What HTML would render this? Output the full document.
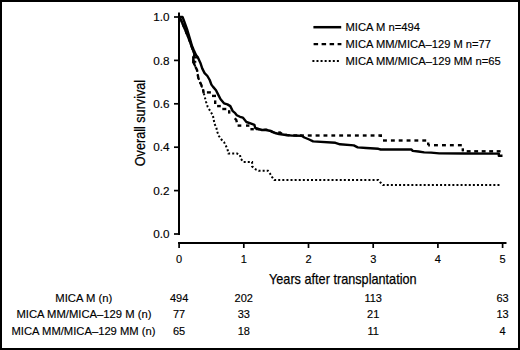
<!DOCTYPE html>
<html><head><meta charset="utf-8"><style>
html,body{margin:0;padding:0;background:#fff;}
svg{display:block;}
text{font-family:"Liberation Sans",sans-serif;fill:#000;stroke:#000;stroke-width:0.15px;}
</style></head><body>
<svg width="520" height="350" viewBox="0 0 520 350">
<rect width="520" height="350" fill="#fff"/>
<rect x="1" y="1" width="518" height="348" fill="none" stroke="#000" stroke-width="2"/>
<line x1="179" y1="12.5" x2="179" y2="235" stroke="#000" stroke-width="2"/>
<line x1="174" y1="234.0" x2="179" y2="234.0" stroke="#000" stroke-width="1.7"/>
<text x="169.6" y="238.1" text-anchor="end" font-size="11" textLength="16.3" lengthAdjust="spacingAndGlyphs" font-family="Liberation Sans, sans-serif">0.0</text>
<line x1="174" y1="190.6" x2="179" y2="190.6" stroke="#000" stroke-width="1.7"/>
<text x="169.6" y="194.7" text-anchor="end" font-size="11" textLength="16.3" lengthAdjust="spacingAndGlyphs" font-family="Liberation Sans, sans-serif">0.2</text>
<line x1="174" y1="147.2" x2="179" y2="147.2" stroke="#000" stroke-width="1.7"/>
<text x="169.6" y="151.3" text-anchor="end" font-size="11" textLength="16.3" lengthAdjust="spacingAndGlyphs" font-family="Liberation Sans, sans-serif">0.4</text>
<line x1="174" y1="103.8" x2="179" y2="103.8" stroke="#000" stroke-width="1.7"/>
<text x="169.6" y="107.9" text-anchor="end" font-size="11" textLength="16.3" lengthAdjust="spacingAndGlyphs" font-family="Liberation Sans, sans-serif">0.6</text>
<line x1="174" y1="60.4" x2="179" y2="60.4" stroke="#000" stroke-width="1.7"/>
<text x="169.6" y="64.5" text-anchor="end" font-size="11" textLength="16.3" lengthAdjust="spacingAndGlyphs" font-family="Liberation Sans, sans-serif">0.8</text>
<line x1="174" y1="17.0" x2="179" y2="17.0" stroke="#000" stroke-width="1.7"/>
<text x="169.6" y="21.1" text-anchor="end" font-size="11" textLength="16.3" lengthAdjust="spacingAndGlyphs" font-family="Liberation Sans, sans-serif">1.0</text>
<line x1="178.1" y1="243" x2="506.5" y2="243" stroke="#000" stroke-width="2"/>
<line x1="179.1" y1="242" x2="179.1" y2="248" stroke="#000" stroke-width="1.7"/>
<text x="179.1" y="263" text-anchor="middle" font-size="11" font-family="Liberation Sans, sans-serif">0</text>
<line x1="243.8" y1="242" x2="243.8" y2="248" stroke="#000" stroke-width="1.7"/>
<text x="243.8" y="263" text-anchor="middle" font-size="11" font-family="Liberation Sans, sans-serif">1</text>
<line x1="308.5" y1="242" x2="308.5" y2="248" stroke="#000" stroke-width="1.7"/>
<text x="308.5" y="263" text-anchor="middle" font-size="11" font-family="Liberation Sans, sans-serif">2</text>
<line x1="373.2" y1="242" x2="373.2" y2="248" stroke="#000" stroke-width="1.7"/>
<text x="373.2" y="263" text-anchor="middle" font-size="11" font-family="Liberation Sans, sans-serif">3</text>
<line x1="437.9" y1="242" x2="437.9" y2="248" stroke="#000" stroke-width="1.7"/>
<text x="437.9" y="263" text-anchor="middle" font-size="11" font-family="Liberation Sans, sans-serif">4</text>
<line x1="502.6" y1="242" x2="502.6" y2="248" stroke="#000" stroke-width="1.7"/>
<text x="502.6" y="263" text-anchor="middle" font-size="11" font-family="Liberation Sans, sans-serif">5</text>
<text x="269" y="283.6" font-size="14.6" style="stroke-width:0.25px" textLength="147.6" lengthAdjust="spacingAndGlyphs" font-family="Liberation Sans, sans-serif">Years after transplantation</text>
<text transform="translate(145.3,166.2) rotate(-90)" font-size="14.6" style="stroke-width:0.25px" textLength="86.3" lengthAdjust="spacingAndGlyphs" font-family="Liberation Sans, sans-serif">Overall survival</text>
<polyline points="179,17 181,20 185.3,30 189.4,40 191.5,46 193,50 194.8,55" fill="none" stroke="#000" stroke-width="2.4"/>
<polyline points="192.2,57.4 198.3,57.4" fill="none" stroke="#000" stroke-width="2.2"/>
<polyline points="192.3,61.8 196.3,61.8" fill="none" stroke="#000" stroke-width="2"/>
<polyline points="193.3,56.5 193.4,62 195.2,66.4" fill="none" stroke="#000" stroke-width="2.2"/>
<polyline points="179.0,17.0 182.5,17.0 183.5,19.5 187.3,30.0 190.3,40.0 192.0,46.0 193.7,50.0 196.0,55.0 197.9,57.5 200.4,62.9 202.3,68.6 204.6,73.1 207.4,76.0 209.7,80.0 211.4,84.6 213.1,86.9 216.0,90.3 218.3,94.9 220.6,99.3 224.0,103.3 227.4,104.4 230.3,106.1 232.8,111.2 235.2,113.2 236.8,115.2 240.0,116.8 242.8,117.6 244.8,120.0 246.4,122.0 251.2,123.6 254.4,124.8 255.2,128.0 258.4,129.0 262.0,130.0 266.0,130.0 271.0,131.0 275.0,133.0 279.0,134.0 286.0,135.0 292.0,135.6 301.5,135.8 304.4,137.5 309.2,139.5 313.1,141.4 335.4,142.8 340.0,144.3 353.8,145.4 357.7,147.4 366.2,148.0 378.4,148.8 380.7,149.5 411.5,149.5 412.7,150.9 418.4,151.5 424.2,152.4 431.1,152.6 439.2,153.4 463.5,153.5 498.8,153.6 498.8,155.7 502.5,155.7" fill="none" stroke="#000" stroke-width="2.4" stroke-linejoin="round"/>
<g fill="none" stroke="#000" stroke-width="2.4">
<polyline points="179.0,17.0 181.0,20.0 181.2,20.5"/>
<polyline points="182.7,23.9 184.3,27.7"/>
<polyline points="185.7,31.0 187.3,34.9"/>
<polyline points="188.7,38.2 189.4,40.0 190.2,42.2"/>
<polyline points="191.3,45.6 191.5,46.0 192.8,49.5"/>
<polyline points="194.0,52.9 194.8,55.0 193.7,56.6"/>
<polyline points="193.4,60.1 193.4,62.0 194.3,64.1"/>
<polyline points="195.7,67.4 197.0,69.9 197.2,71.3"/>
<polyline points="197.8,74.9 198.3,77.9 198.7,78.9"/>
<polyline points="200.1,82.3 200.6,83.6 201.9,86.1"/>
<polyline points="203.1,89.4 203.5,92.4 204.7,92.4"/>
<polyline points="206.9,92.4 210.9,92.4"/>
<polyline points="212.0,95.9 216.0,95.9"/>
<polyline points="215.2,100.4 215.2,104.0"/>
<polyline points="217.1,106.1 220.8,106.1"/>
<polyline points="222.3,109.0 226.3,109.0"/>
<polyline points="229.2,110.2 229.2,113.6"/>
<polyline points="234.8,118.2 236.3,120.0 236.8,122.3"/>
<polyline points="237.6,125.6 241.3,125.6"/>
<polyline points="246.0,125.6 249.4,125.6"/>
<polyline points="250.4,129.2 253.8,129.2"/>
<polyline points="255.8,129.1 258.0,129.0 259.7,129.4"/>
<polyline points="263.5,129.9 266.0,129.8 267.5,129.9"/>
<polyline points="270.9,131.0 272.0,132.0 274.5,132.6"/>
<polyline points="278.2,132.8 280.0,132.6 281.9,133.7"/>
<polyline points="285.5,134.7 287.0,135.0 289.5,135.3"/>
<polyline points="293.3,135.4 297.3,135.5"/>
<polyline points="300.0,135.5 303.9,135.5"/>
<polyline points="307.8,135.5 311.7,135.5"/>
<polyline points="315.6,135.5 319.6,135.5"/>
<polyline points="323.5,135.5 327.4,135.5"/>
<polyline points="331.4,135.5 335.2,135.5"/>
<polyline points="339.2,135.5 343.1,135.5"/>
<polyline points="347.1,135.5 350.9,135.5"/>
<polyline points="354.9,135.5 358.8,135.5"/>
<polyline points="362.8,135.5 366.6,135.5"/>
<polyline points="370.6,135.5 374.5,135.5"/>
<polyline points="378.4,135.5 380.8,135.5 380.8,137.1"/>
<polyline points="383.0,140.5 386.9,140.5"/>
<polyline points="390.9,140.5 394.8,140.5"/>
<polyline points="398.7,140.5 402.6,140.5"/>
<polyline points="406.6,140.5 410.5,140.5"/>
<polyline points="414.4,140.5 418.3,140.5"/>
<polyline points="422.3,140.5 426.2,140.5"/>
<polyline points="428.2,142.5 428.2,145.2"/>
<polyline points="428.2,145.2 429.9,145.2"/>
<polyline points="434.0,145.2 437.9,145.2"/>
<polyline points="442.0,145.2 445.9,145.2"/>
<polyline points="449.9,145.2 453.8,145.2"/>
<polyline points="457.9,145.2 461.8,145.2"/>
<polyline points="462.8,148.3 462.8,151.3"/>
<polyline points="462.8,151.3 463.1,151.3"/>
<polyline points="466.7,151.3 470.6,151.3"/>
<polyline points="474.2,151.3 478.1,151.3"/>
<polyline points="481.7,151.3 485.6,151.3"/>
<polyline points="489.2,151.3 493.1,151.3"/>
<polyline points="496.7,151.3 500.6,151.3"/>
</g>
<polyline points="179.0,17.0 181.0,20.0 185.3,30.0 189.4,40.0 191.5,46.0 193.0,50.0 194.8,55.0 193.3,57.3 193.4,62.0 195.2,66.4 197.0,69.9 198.3,77.9 200.6,83.6 202.9,89.6 204.0,94.1 206.0,101.7 207.7,106.9 210.3,111.1 212.9,115.4 213.7,119.7 214.6,124.0 216.3,127.4 217.2,131.7 218.9,136.0 221.4,139.5 224.0,142.0 225.7,145.5 227.4,148.9 228.5,153.6 237.1,153.6 240.0,155.0 240.7,158.6 243.6,162.1 252.1,162.1 252.1,166.4 255.7,169.3 258.6,170.7 267.9,170.7 270.0,173.6 272.1,177.1 274.3,180.0 378.3,180.0 380.0,182.0 383.0,185.0 500.6,185.0" fill="none" stroke="#000" stroke-width="2" stroke-dasharray="2 2.1"/>
<line x1="313.4" y1="27.2" x2="341.2" y2="27.2" stroke="#000" stroke-width="2.5"/>
<line x1="313.6" y1="44.1" x2="341.4" y2="44.1" stroke="#000" stroke-width="2.4" stroke-dasharray="4.5 3.5"/>
<line x1="312.4" y1="61.1" x2="339" y2="61.1" stroke="#000" stroke-width="2" stroke-dasharray="2 2.08"/>
<text x="345.5" y="30.8" font-size="11" textLength="74.4" lengthAdjust="spacingAndGlyphs" font-family="Liberation Sans, sans-serif">MICA M n=494</text>
<text x="345.5" y="47.7" font-size="11" textLength="145.5" lengthAdjust="spacingAndGlyphs" font-family="Liberation Sans, sans-serif">MICA MM/MICA–129 M n=77</text>
<text x="345.5" y="64.6" font-size="11" textLength="155.2" lengthAdjust="spacingAndGlyphs" font-family="Liberation Sans, sans-serif">MICA MM/MICA–129 MM n=65</text>
<text x="83.8" y="302.0" text-anchor="middle" font-size="11" textLength="57.0" lengthAdjust="spacingAndGlyphs" font-family="Liberation Sans, sans-serif">MICA M (n)</text>
<text x="179.1" y="302.0" text-anchor="middle" font-size="11" font-family="Liberation Sans, sans-serif">494</text>
<text x="243.8" y="302.0" text-anchor="middle" font-size="11" font-family="Liberation Sans, sans-serif">202</text>
<text x="373.2" y="302.0" text-anchor="middle" font-size="11" font-family="Liberation Sans, sans-serif">113</text>
<text x="502.6" y="302.0" text-anchor="middle" font-size="11" font-family="Liberation Sans, sans-serif">63</text>
<text x="84.0" y="318.0" text-anchor="middle" font-size="11" textLength="135.0" lengthAdjust="spacingAndGlyphs" font-family="Liberation Sans, sans-serif">MICA MM/MICA–129 M (n)</text>
<text x="179.1" y="318.0" text-anchor="middle" font-size="11" font-family="Liberation Sans, sans-serif">77</text>
<text x="243.8" y="318.0" text-anchor="middle" font-size="11" font-family="Liberation Sans, sans-serif">33</text>
<text x="373.2" y="318.0" text-anchor="middle" font-size="11" font-family="Liberation Sans, sans-serif">21</text>
<text x="502.6" y="318.0" text-anchor="middle" font-size="11" font-family="Liberation Sans, sans-serif">13</text>
<text x="83.5" y="335.0" text-anchor="middle" font-size="11" textLength="144.0" lengthAdjust="spacingAndGlyphs" font-family="Liberation Sans, sans-serif">MICA MM/MICA–129 MM (n)</text>
<text x="179.1" y="335.0" text-anchor="middle" font-size="11" font-family="Liberation Sans, sans-serif">65</text>
<text x="243.8" y="335.0" text-anchor="middle" font-size="11" font-family="Liberation Sans, sans-serif">18</text>
<text x="373.2" y="335.0" text-anchor="middle" font-size="11" font-family="Liberation Sans, sans-serif">11</text>
<text x="502.6" y="335.0" text-anchor="middle" font-size="11" font-family="Liberation Sans, sans-serif">4</text>
</svg>
</body></html>
